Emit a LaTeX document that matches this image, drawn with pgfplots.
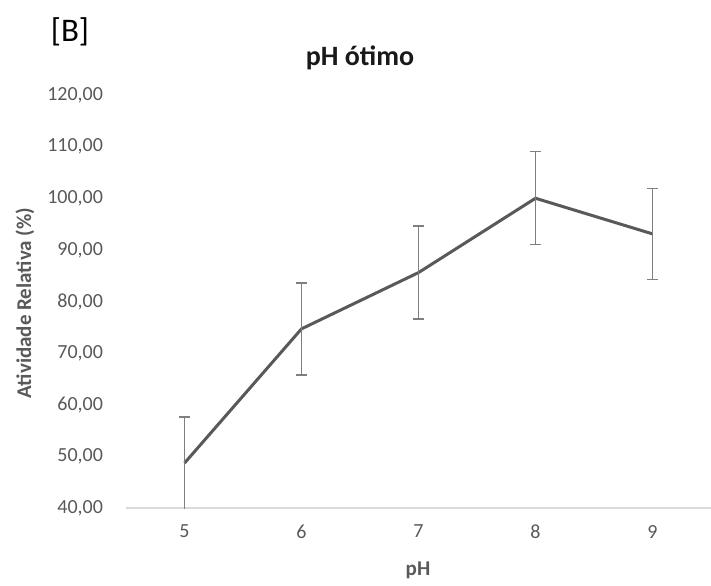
\documentclass[border=0pt]{standalone}
\usepackage{fontspec}
\setmainfont{Carlito}
\usepackage{pgfplots}
\pgfplotsset{compat=1.18}
\definecolor{txtgray}{HTML}{595959}
\definecolor{linegray}{HTML}{595959}
\definecolor{errgray}{HTML}{7F7F7F}
\definecolor{axgray}{HTML}{D9D9D9}

\begin{document}
\begin{tikzpicture}
\useasboundingbox (-63pt,-38.5pt) rectangle (292.5pt,254pt);
\begin{axis}[
  at={(0,0)}, anchor=south west,
  scale only axis, width=292.5pt, height=206.5pt,
  xmin=4.5, xmax=9.5, ymin=40, ymax=120,
  xtick={5,6,7,8,9}, ytick={40,50,...,120},
  axis x line*=bottom, axis y line*=left,
  x axis line style={-, draw=axgray, line width=0.6pt},
  y axis line style={draw=none},
  major tick length=0pt,
  ticklabel style={font=\fontsize{10}{12}\selectfont, text=txtgray},
  yticklabel style={xshift=-8pt},
  xticklabel style={yshift=-5pt},
  /pgf/number format/assume math mode=true,
  yticklabel={\pgfmathprintnumber[fixed, fixed zerofill, precision=2, use comma, 1000 sep={}]{\tick}},
  xticklabel={\pgfmathprintnumber[fixed, precision=0]{\tick}},
]
  \addplot[linegray, line width=1.5pt, mark=none,
    error bars/.cd, y dir=both, y explicit,
    error bar style={errgray, line width=0.7pt},
    error mark options={rotate=90, errgray, mark size=2.75pt, line width=0.7pt}]
    coordinates {
      (5,48.7) += (0,8.9) -= (0,9.6)
      (6,74.7) +- (0,8.9)
      (7,85.6) +- (0,9.0)
      (8,100.0) +- (0,9.0)
      (9,93.1) +- (0,8.8)
    };
\end{axis}
\node[font=\fontsize{16.5}{18}\selectfont] at (-28pt,238pt) {[B]};
\node[font=\fontsize{14}{16}\bfseries\selectfont, text=black!90] at (117pt,225pt) {pH ótimo};
\node[font=\fontsize{10.5}{12}\bfseries\selectfont, text=txtgray, rotate=90] at (-50.5pt,102.5pt) {Atividade Relativa (\%)};
\node[font=\fontsize{10.5}{12}\bfseries\selectfont, text=txtgray] at (146pt,-31pt) {pH};
\end{tikzpicture}
\end{document}
